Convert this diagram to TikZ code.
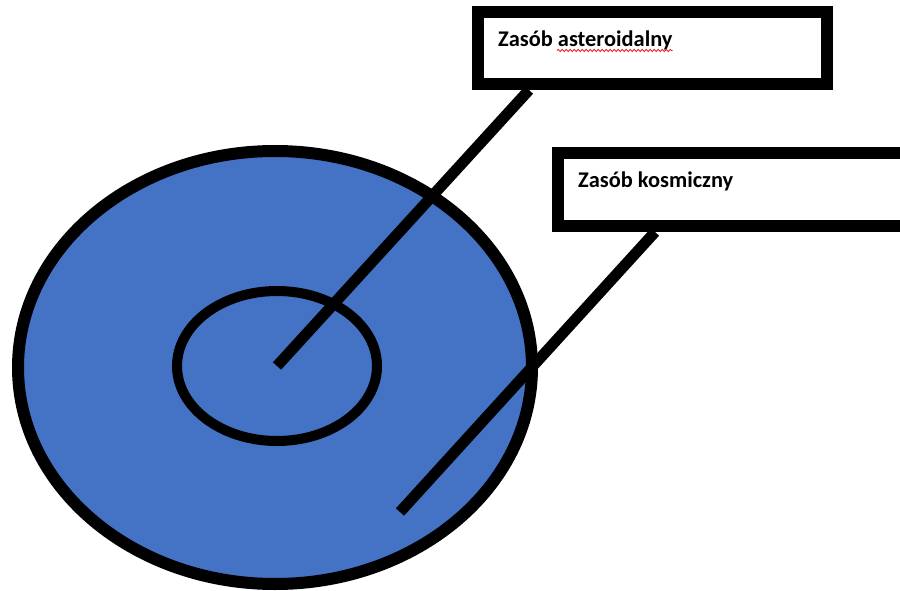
\documentclass[tikz,border=0pt]{standalone}
\usepackage{fontspec}
\setmainfont{Carlito}
\usetikzlibrary{positioning,shapes.geometric,decorations.pathmorphing}
\definecolor{disc}{HTML}{4472C4}
\definecolor{spell}{HTML}{E8262A}

\begin{document}
\begin{tikzpicture}[x=1pt,y=-1pt,
  ring/.style={ellipse,draw=black,inner sep=0pt},
  tag/.style={draw=black,fill=white,line width=12pt,inner sep=0pt},
  caption/.style={anchor=base west,inner sep=0pt,font=\fontsize{22.4}{26}\selectfont\bfseries},
  stem/.style={draw=black,line width=11pt}]
\clip (0,0) rectangle (900,591);
\node[ring,fill=disc,line width=12pt,minimum width=514pt,minimum height=433pt] (outer) at (275,367.5){};
\node[ring,line width=10pt,minimum width=200pt,minimum height=150pt] (inner) at (277,366){};
\node[tag,minimum width=349pt,minimum height=72pt] (b1) at (652.5,48){};
\node[tag,minimum width=382pt,minimum height=73pt] (b2) at (749,189.5){};
\node[caption] (t1) at (498,47){Zasób asteroidalny};
\node[caption] (t2) at (578,188){Zasób kosmiczny};
\coordinate (tip1) at ([xshift=57]b1.south west);
\coordinate (tip2) at ([xshift=103]b2.south west);
\coordinate (foot) at (400,512);
\draw[stem] (inner.center)--(tip1);\draw[stem] (foot)--(tip2);
\draw[spell,line width=.9pt,decorate,decoration={snake,segment length=4pt,amplitude=1.1pt}] ([xshift=59,yshift=-3.5]t1.base west)--([yshift=-3.5]t1.base east);
\end{tikzpicture}
\end{document}
